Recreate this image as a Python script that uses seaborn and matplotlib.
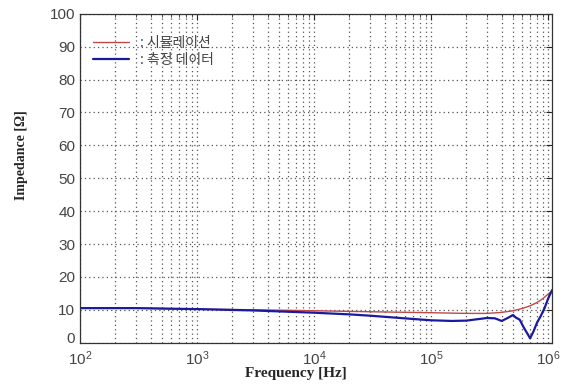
import numpy as np
import pandas as pd
import seaborn as sns
import matplotlib.pyplot as plt
from matplotlib.ticker import LogLocator, NullFormatter

# Données
sim_freq = [1e2, 3e2, 1e3, 3e3, 1e4, 3e4, 1e5, 2e5, 3e5, 4e5, 5e5, 6e5, 7e5, 8e5, 9e5, 1e6, 1.08e6]
sim_z = [10.6, 10.5, 10.2, 10.0, 9.7, 9.4, 9.1, 8.9, 8.9, 9.2, 9.7, 10.4, 11.2, 12.2, 13.4, 14.8, 15.8]

meas_freq = [1e2, 3e2, 1e3, 3e3, 1e4, 2e4, 3e4, 5e4, 7e4, 1e5, 1.5e5, 2e5, 3e5, 3.5e5, 4e5,
             4.5e5, 5e5, 5.3e5, 5.7e5, 6.2e5, 6.7e5, 7e5, 7.5e5, 8e5, 8.6e5, 9.3e5, 1e6, 1.08e6]
meas_z = [10.5, 10.5, 10.2, 9.8, 9.1, 8.6, 8.2, 7.6, 7.2, 6.8, 6.6, 6.7, 7.5, 7.4, 6.6,
          7.5, 8.4, 7.6, 7.0, 4.5, 2.5, 1.3, 3.5, 6.0, 8.0, 10.5, 13.5, 16.0]

legend_labels = [": 시뮬레이션", ": 측정 데이터"]
y_ticks = list(range(0, 101, 10))

sns.set_style("white")
plt.rcParams['font.family'] = ['Liberation Sans', 'Noto Sans CJK KR', 'DejaVu Sans']

df_sim = pd.DataFrame({"freq": sim_freq, "z": sim_z})
df_meas = pd.DataFrame({"freq": meas_freq, "z": meas_z})

fig = plt.figure(figsize=(5.64, 3.85), dpi=100)
ax = fig.add_axes([0.142, 0.11, 0.837, 0.854])

sns.lineplot(data=df_sim, x="freq", y="z", ax=ax, color="#c04848", linewidth=1.0,
             estimator=None, sort=False, label=legend_labels[0])
sns.lineplot(data=df_meas, x="freq", y="z", ax=ax, color="#1a1aa0", linewidth=1.6,
             estimator=None, sort=False, label=legend_labels[1])

ax.set_xscale("log")
ax.set_xlim(1e2, 1.08e6)
ax.set_ylim(0, 100)
ax.set_yticks(y_ticks)
ax.xaxis.set_major_locator(LogLocator(base=10, numticks=10))
ax.xaxis.set_minor_locator(LogLocator(base=10, subs=np.arange(2, 10), numticks=20))
ax.xaxis.set_minor_formatter(NullFormatter())

# grille pointillée façon MATLAB
dots = (0, (1, 2.5))
ax.grid(True, which="major", axis="both", linestyle=dots, color="#555555", linewidth=0.9)
ax.grid(True, which="minor", axis="x", linestyle=dots, color="#555555", linewidth=0.9)

ax.tick_params(axis="both", which="both", direction="in", top=True, right=True,
               labelsize=11, labelcolor="#444444")
ax.tick_params(axis="x", which="major", pad=4.5)
ax.tick_params(which="major", length=4)
ax.tick_params(which="minor", length=2)
for s in ax.spines.values():
    s.set_color("#333333")
    s.set_linewidth(0.9)

# le "0" remonte un peu pour ne pas toucher 10^2
ax.yaxis.get_major_ticks()[0].label1.set_va("baseline")

ax.set_xlabel("Frequency [Hz]", family="Liberation Serif", fontweight="bold", fontsize=11)
ax.set_ylabel("Impedance [Ω]", family="Liberation Serif", fontweight="bold", fontsize=10)
ax.xaxis.set_label_coords(0.458, -0.074)
ax.yaxis.set_label_coords(-0.11, 0.57)

leg = ax.legend(loc="upper left", frameon=False, handlelength=2.6,
                bbox_to_anchor=(0.0, 0.97), labelspacing=0.2,
                prop={"family": ["Noto Sans CJK KR", "DejaVu Sans"], "size": 10})
for t in leg.get_texts():
    t.set_color("#444444")

fig.savefig("out.png", dpi=100)
